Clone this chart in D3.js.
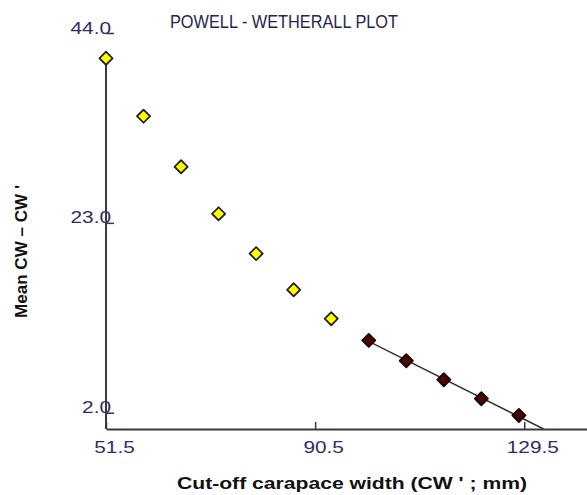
<!DOCTYPE html>
<html>
<head>
<meta charset="utf-8">
<script src="https://cdn.jsdelivr.net/npm/d3@7/dist/d3.min.js"></script>
<style>
  html, body { margin: 0; padding: 0; background: #fff; }
  svg { display: block; }
</style>
</head>
<body>
<script>
// Powell–Wetherall plot: mean CW − CW' against cut-off carapace width CW'
const cutoffWidth = [51.5, 58.5, 65.5, 72.5, 79.5, 86.5, 93.5, 100.5, 107.5, 114.5, 121.5, 128.5];
const meanDiff    = [41.2, 34.8, 29.2, 24.0, 19.6, 15.6, 12.4, 10.0, 7.75, 5.65, 3.55, 1.7];
// points used in the regression (the dark markers)
const usedInFit   = [false, false, false, false, false, false, false, true, true, true, true, true];
const xTicks = [51.5, 90.5, 129.5];
const yTicks = [2.0, 23.0, 44.0];

const W = 587, H = 495;
const FONT = "Liberation Sans, Arial, sans-serif";
const svg = d3.select("body").append("svg").attr("width", W).attr("height", H);

const x = d3.scaleLinear().domain([51.5, 141.2]).range([106, 587]);
const y = d3.scaleLinear().domain([0.2, 44]).range([429, 33]);

const labelColor = "#2e2e62";
const axisColor = "#3a3a3a";

// widen a text element horizontally by a factor (glyphs stretched)
function widen(sel, k) {
  sel.each(function () {
    const len = this.getComputedTextLength();
    d3.select(this).attr("textLength", len * k).attr("lengthAdjust", "spacingAndGlyphs");
  });
}

// title
svg.append("text")
  .attr("x", 170).attr("y", 28)
  .attr("font-family", FONT)
  .attr("font-size", 17.5)
  .attr("fill", "#26264f")
  .attr("textLength", 228).attr("lengthAdjust", "spacingAndGlyphs")
  .text("POWELL - WETHERALL PLOT");

// x axis
const xAxis = svg.append("g")
  .attr("transform", `translate(0,${y(0.2)})`)
  .call(d3.axisBottom(x).tickValues(xTicks).tickFormat(d3.format(".1f"))
    .tickSizeInner(-7).tickSizeOuter(0).tickPadding(13));
xAxis.select(".domain").attr("stroke", axisColor).attr("stroke-width", 2);
xAxis.selectAll(".tick line").attr("stroke", axisColor).attr("stroke-width", 1.5);
xAxis.selectAll(".tick text")
  .attr("font-family", FONT)
  .attr("font-size", 16).attr("fill", labelColor).attr("dx", 8)
  .call(widen, 1.3);

// y axis: inward ticks, labels sitting on the tick lines
const yAxis = svg.append("g")
  .attr("transform", `translate(${x(51.5)},0)`)
  .call(d3.axisLeft(y).tickValues(yTicks).tickFormat(d3.format(".1f"))
    .tickSizeInner(-8).tickSizeOuter(0).tickPadding(-5));
yAxis.select(".domain").remove();
yAxis.selectAll(".tick line").attr("stroke", axisColor).attr("stroke-width", 1.5);
yAxis.selectAll(".tick text")
  .attr("font-family", FONT)
  .attr("font-size", 16).attr("fill", labelColor).attr("dy", 0)
  .call(widen, 1.3);

// vertical axis line runs from the first point down to the x axis
svg.append("line")
  .attr("x1", x(51.5)).attr("x2", x(51.5))
  .attr("y1", y(meanDiff[0])).attr("y2", y(0.2))
  .attr("stroke", axisColor).attr("stroke-width", 2);

// least-squares line through the selected points
const fitX = cutoffWidth.filter((d, i) => usedInFit[i]);
const fitY = meanDiff.filter((d, i) => usedInFit[i]);
const mx = d3.mean(fitX), my = d3.mean(fitY);
const slope = d3.sum(fitX, (d, i) => (d - mx) * (fitY[i] - my)) / d3.sum(fitX, d => (d - mx) ** 2);
const icpt = my - slope * mx;
const xEnd = (0.2 - icpt) / slope;
svg.append("line")
  .attr("x1", x(fitX[0])).attr("y1", y(icpt + slope * fitX[0]))
  .attr("x2", x(xEnd)).attr("y2", y(0.2))
  .attr("stroke", "#333").attr("stroke-width", 1.5);

// markers
const marker = d3.symbol().type(d3.symbolSquare).size(86);
svg.append("g").selectAll("path")
  .data(cutoffWidth.map((d, i) => ({ x: d, y: meanDiff[i], fit: usedInFit[i] })))
  .join("path")
  .attr("d", marker)
  .attr("transform", d => `translate(${x(d.x)},${y(d.y)}) rotate(45)`)
  .attr("fill", d => d.fit ? "#4a0505" : "#ffff00")
  .attr("stroke", d => d.fit ? "#1a0000" : "#222")
  .attr("stroke-width", 1.8)
  .attr("stroke-linejoin", "round");

// axis titles
svg.append("text")
  .attr("x", 177).attr("y", 489)
  .attr("font-family", FONT)
  .attr("font-size", 16).attr("font-weight", "bold").attr("fill", "#111")
  .attr("textLength", 350).attr("lengthAdjust", "spacingAndGlyphs")
  .text("Cut-off carapace width (CW ' ; mm)");

svg.append("text")
  .attr("transform", "translate(27,318) rotate(-90)")
  .attr("font-family", FONT)
  .attr("font-size", 16).attr("font-weight", "bold").attr("fill", "#111")
  .attr("textLength", 133).attr("lengthAdjust", "spacingAndGlyphs")
  .text("Mean CW \u2013 CW '");
</script>
</body>
</html>
